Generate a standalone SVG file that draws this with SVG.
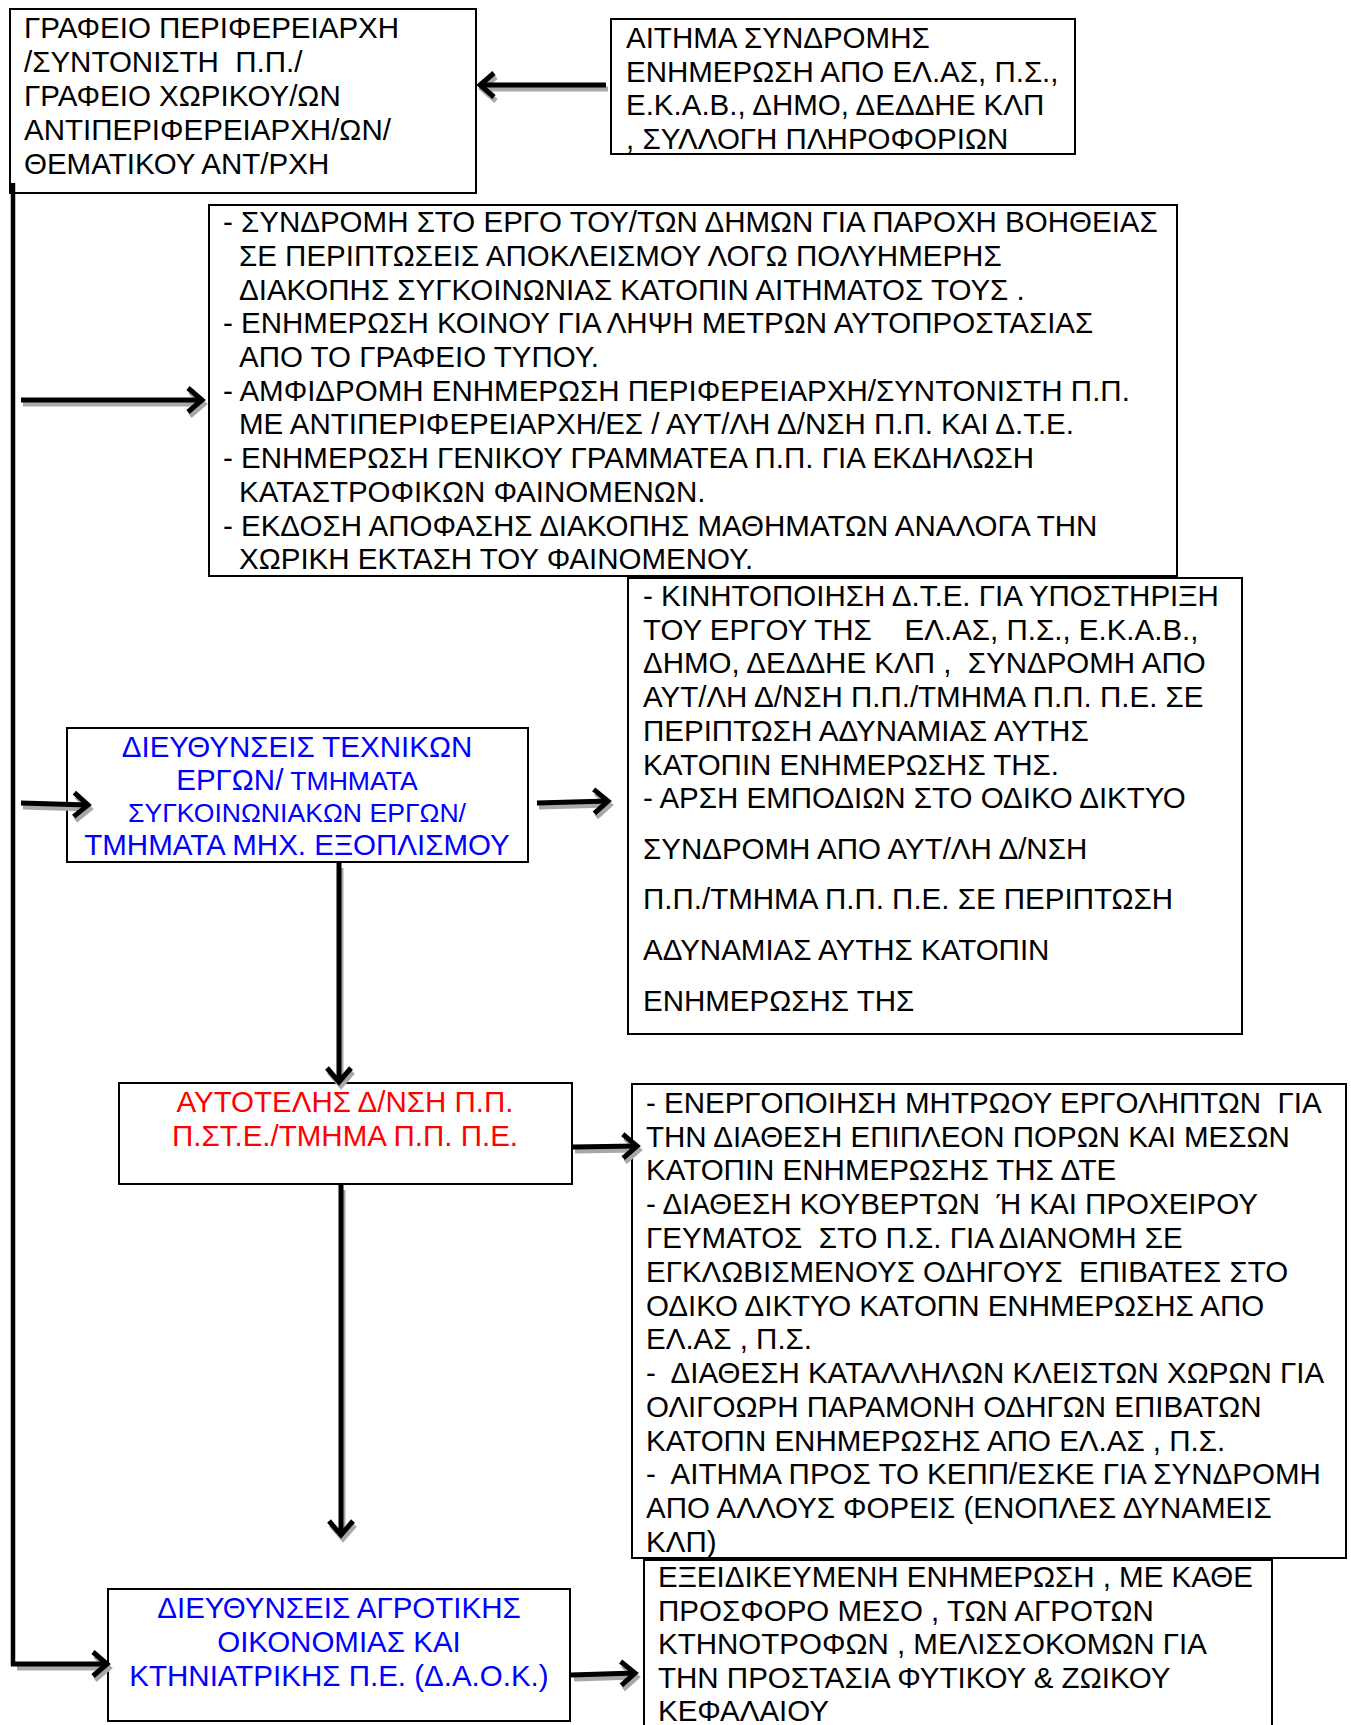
<svg xmlns="http://www.w3.org/2000/svg" width="1351" height="1725" viewBox="0 0 1351 1725">
<style>
  .box { fill: #fff; stroke: #000; stroke-width: 2; }
  text { font-family: "Liberation Sans", Arial, sans-serif; font-size: 29.5px; fill: #000; white-space: pre; }
  .blue { fill: #0000ff; }
  .red { fill: #ff0000; }
  .mid { text-anchor: middle; }
  .sm { font-size: 26.6px; }
  .ln { fill: none; stroke: #000; stroke-width: 5; marker-end: url(#ah); }
  .sh { fill: none; stroke: #a8a8a8; stroke-width: 5; marker-end: url(#ahs); }
  .vl { fill: none; stroke: #000; stroke-width: 4.5; }
</style>
<defs>
  <marker id="ah" markerUnits="userSpaceOnUse" markerWidth="30" markerHeight="30" viewBox="0 0 30 30" refX="20" refY="15" orient="auto" overflow="visible">
    <path d="M6,3 L20,15 L6,27" fill="none" stroke="#000" stroke-width="5"/>
  </marker>
  <marker id="ahs" markerUnits="userSpaceOnUse" markerWidth="30" markerHeight="30" viewBox="0 0 30 30" refX="20" refY="15" orient="auto" overflow="visible">
    <path d="M6,3 L20,15 L6,27" fill="none" stroke="#a8a8a8" stroke-width="5"/>
  </marker>
</defs>
<rect width="1351" height="1725" fill="#fff"/>

<g id="node-grafeio">
  <rect class="box" x="10" y="9" width="466" height="184"/>
  <text x="24" y="38">ΓΡΑΦΕΙΟ ΠΕΡΙΦΕΡΕΙΑΡΧΗ</text>
  <text x="24" y="72">/ΣΥΝΤΟΝΙΣΤΗ  Π.Π./</text>
  <text x="24" y="106">ΓΡΑΦΕΙΟ ΧΩΡΙΚΟΥ/ΩΝ</text>
  <text x="24" y="140">ΑΝΤΙΠΕΡΙΦΕΡΕΙΑΡΧΗ/ΩΝ/</text>
  <text x="24" y="174">ΘΕΜΑΤΙΚΟΥ ΑΝΤ/ΡΧΗ</text>
</g>

<g id="node-aitima">
  <rect class="box" x="611" y="19" width="464" height="135"/>
  <text x="626" y="48">ΑΙΤΗΜΑ ΣΥΝΔΡΟΜΗΣ</text>
  <text x="626" y="82">ΕΝΗΜΕΡΩΣΗ ΑΠΟ ΕΛ.ΑΣ, Π.Σ.,</text>
  <text x="626" y="115">Ε.Κ.Α.Β., ΔΗΜΟ, ΔΕΔΔΗΕ ΚΛΠ</text>
  <text x="626" y="149">, ΣΥΛΛΟΓΗ ΠΛΗΡΟΦΟΡΙΩΝ</text>
</g>

<g id="node-actions">
  <rect class="box" x="209" y="205" width="968" height="371"/>
  <text x="223" y="232">- ΣΥΝΔΡΟΜΗ ΣΤΟ ΕΡΓΟ ΤΟΥ/ΤΩΝ ΔΗΜΩΝ ΓΙΑ ΠΑΡΟΧΗ ΒΟΗΘΕΙΑΣ</text>
  <text x="239" y="266">ΣΕ ΠΕΡΙΠΤΩΣΕΙΣ ΑΠΟΚΛΕΙΣΜΟΥ ΛΟΓΩ ΠΟΛΥΗΜΕΡΗΣ</text>
  <text x="239" y="300">ΔΙΑΚΟΠΗΣ ΣΥΓΚΟΙΝΩΝΙΑΣ ΚΑΤΟΠΙΝ ΑΙΤΗΜΑΤΟΣ ΤΟΥΣ .</text>
  <text x="223" y="333">- ΕΝΗΜΕΡΩΣΗ ΚΟΙΝΟΥ ΓΙΑ ΛΗΨΗ ΜΕΤΡΩΝ ΑΥΤΟΠΡΟΣΤΑΣΙΑΣ</text>
  <text x="239" y="367">ΑΠΟ ΤΟ ΓΡΑΦΕΙΟ ΤΥΠΟΥ.</text>
  <text x="223" y="401">- ΑΜΦΙΔΡΟΜΗ ΕΝΗΜΕΡΩΣΗ ΠΕΡΙΦΕΡΕΙΑΡΧΗ/ΣΥΝΤΟΝΙΣΤΗ Π.Π.</text>
  <text x="239" y="434">ΜΕ ΑΝΤΙΠΕΡΙΦΕΡΕΙΑΡΧΗ/ΕΣ / ΑΥΤ/ΛΗ Δ/ΝΣΗ Π.Π. ΚΑΙ Δ.Τ.Ε.</text>
  <text x="223" y="468">- ΕΝΗΜΕΡΩΣΗ ΓΕΝΙΚΟΥ ΓΡΑΜΜΑΤΕΑ Π.Π. ΓΙΑ ΕΚΔΗΛΩΣΗ</text>
  <text x="239" y="502">ΚΑΤΑΣΤΡΟΦΙΚΩΝ ΦΑΙΝΟΜΕΝΩΝ.</text>
  <text x="223" y="536">- ΕΚΔΟΣΗ ΑΠΟΦΑΣΗΣ ΔΙΑΚΟΠΗΣ ΜΑΘΗΜΑΤΩΝ ΑΝΑΛΟΓΑ ΤΗΝ</text>
  <text x="239" y="569">ΧΩΡΙΚΗ ΕΚΤΑΣΗ ΤΟΥ ΦΑΙΝΟΜΕΝΟΥ.</text>
</g>

<g id="node-dte">
  <rect class="box" x="67" y="728" width="461" height="134"/>
  <text class="blue mid" x="297" y="757">ΔΙΕΥΘΥΝΣΕΙΣ ΤΕΧΝΙΚΩΝ</text>
  <text class="blue mid" x="297" y="790">ΕΡΓΩΝ/<tspan class="sm"> ΤΜΗΜΑΤΑ</tspan></text>
  <text class="blue mid sm" x="297" y="822">ΣΥΓΚΟΙΝΩΝΙΑΚΩΝ ΕΡΓΩΝ/</text>
  <text class="blue mid" x="297" y="855">ΤΜΗΜΑΤΑ ΜΗΧ. ΕΞΟΠΛΙΣΜΟΥ</text>
</g>

<g id="node-dte-actions">
  <rect class="box" x="628" y="578" width="614" height="456"/>
  <text x="643" y="606">- ΚΙΝΗΤΟΠΟΙΗΣΗ Δ.Τ.Ε. ΓΙΑ ΥΠΟΣΤΗΡΙΞΗ</text>
  <text x="643" y="640">ΤΟΥ ΕΡΓΟΥ ΤΗΣ    ΕΛ.ΑΣ, Π.Σ., Ε.Κ.Α.Β.,</text>
  <text x="643" y="673">ΔΗΜΟ, ΔΕΔΔΗΕ ΚΛΠ ,  ΣΥΝΔΡΟΜΗ ΑΠΟ</text>
  <text x="643" y="707">ΑΥΤ/ΛΗ Δ/ΝΣΗ Π.Π./ΤΜΗΜΑ Π.Π. Π.Ε. ΣΕ</text>
  <text x="643" y="741">ΠΕΡΙΠΤΩΣΗ ΑΔΥΝΑΜΙΑΣ ΑΥΤΗΣ</text>
  <text x="643" y="775">ΚΑΤΟΠΙΝ ΕΝΗΜΕΡΩΣΗΣ ΤΗΣ.</text>
  <text x="643" y="808">- ΑΡΣΗ ΕΜΠΟΔΙΩΝ ΣΤΟ ΟΔΙΚΟ ΔΙΚΤΥΟ</text>
  <text x="643" y="859">ΣΥΝΔΡΟΜΗ ΑΠΟ ΑΥΤ/ΛΗ Δ/ΝΣΗ</text>
  <text x="643" y="909">Π.Π./ΤΜΗΜΑ Π.Π. Π.Ε. ΣΕ ΠΕΡΙΠΤΩΣΗ</text>
  <text x="643" y="960">ΑΔΥΝΑΜΙΑΣ ΑΥΤΗΣ ΚΑΤΟΠΙΝ</text>
  <text x="643" y="1011">ΕΝΗΜΕΡΩΣΗΣ ΤΗΣ</text>
</g>

<g id="node-autoteli">
  <rect class="box" x="119" y="1083" width="453" height="101"/>
  <text class="red mid" x="345" y="1112">ΑΥΤΟΤΕΛΗΣ Δ/ΝΣΗ Π.Π.</text>
  <text class="red mid" x="345" y="1146">Π.ΣΤ.Ε./ΤΜΗΜΑ Π.Π. Π.Ε.</text>
</g>

<g id="node-autoteli-actions">
  <rect class="box" x="632" y="1084" width="714" height="474"/>
  <text x="646" y="1113">- ΕΝΕΡΓΟΠΟΙΗΣΗ ΜΗΤΡΩΟΥ ΕΡΓΟΛΗΠΤΩΝ  ΓΙΑ</text>
  <text x="646" y="1147">ΤΗΝ ΔΙΑΘΕΣΗ ΕΠΙΠΛΕΟΝ ΠΟΡΩΝ ΚΑΙ ΜΕΣΩΝ</text>
  <text x="646" y="1180">ΚΑΤΟΠΙΝ ΕΝΗΜΕΡΩΣΗΣ ΤΗΣ ΔΤΕ</text>
  <text x="646" y="1214">- ΔΙΑΘΕΣΗ ΚΟΥΒΕΡΤΩΝ  Ή ΚΑΙ ΠΡΟΧΕΙΡΟΥ</text>
  <text x="646" y="1248">ΓΕΥΜΑΤΟΣ  ΣΤΟ Π.Σ. ΓΙΑ ΔΙΑΝΟΜΗ ΣΕ</text>
  <text x="646" y="1282">ΕΓΚΛΩΒΙΣΜΕΝΟΥΣ ΟΔΗΓΟΥΣ  ΕΠΙΒΑΤΕΣ ΣΤΟ</text>
  <text x="646" y="1316">ΟΔΙΚΟ ΔΙΚΤΥΟ ΚΑΤΟΠΝ ΕΝΗΜΕΡΩΣΗΣ ΑΠΟ</text>
  <text x="646" y="1349">ΕΛ.ΑΣ , Π.Σ.</text>
  <text x="646" y="1383">-  ΔΙΑΘΕΣΗ ΚΑΤΑΛΛΗΛΩΝ ΚΛΕΙΣΤΩΝ ΧΩΡΩΝ ΓΙΑ</text>
  <text x="646" y="1417">ΟΛΙΓΟΩΡΗ ΠΑΡΑΜΟΝΗ ΟΔΗΓΩΝ ΕΠΙΒΑΤΩΝ</text>
  <text x="646" y="1451">ΚΑΤΟΠΝ ΕΝΗΜΕΡΩΣΗΣ ΑΠΟ ΕΛ.ΑΣ , Π.Σ.</text>
  <text x="646" y="1484">-  ΑΙΤΗΜΑ ΠΡΟΣ ΤΟ ΚΕΠΠ/ΕΣΚΕ ΓΙΑ ΣΥΝΔΡΟΜΗ</text>
  <text x="646" y="1518">ΑΠΟ ΑΛΛΟΥΣ ΦΟΡΕΙΣ (ΕΝΟΠΛΕΣ ΔΥΝΑΜΕΙΣ</text>
  <text x="646" y="1552">ΚΛΠ)</text>
</g>

<g id="node-daok">
  <rect class="box" x="108" y="1589" width="462" height="132"/>
  <text class="blue mid" x="339" y="1618">ΔΙΕΥΘΥΝΣΕΙΣ ΑΓΡΟΤΙΚΗΣ</text>
  <text class="blue mid" x="339" y="1652">ΟΙΚΟΝΟΜΙΑΣ ΚΑΙ</text>
  <text class="blue mid" x="339" y="1686">ΚΤΗΝΙΑΤΡΙΚΗΣ Π.Ε. (Δ.Α.Ο.Κ.)</text>
</g>

<g id="node-daok-actions">
  <rect class="box" x="644" y="1560" width="628" height="200"/>
  <text x="658" y="1587">ΕΞΕΙΔΙΚΕΥΜΕΝΗ ΕΝΗΜΕΡΩΣΗ , ΜΕ ΚΑΘΕ</text>
  <text x="658" y="1621">ΠΡΟΣΦΟΡΟ ΜΕΣΟ , ΤΩΝ ΑΓΡΟΤΩΝ</text>
  <text x="658" y="1654">ΚΤΗΝΟΤΡΟΦΩΝ , ΜΕΛΙΣΣΟΚΟΜΩΝ ΓΙΑ</text>
  <text x="658" y="1688">ΤΗΝ ΠΡΟΣΤΑΣΙΑ ΦΥΤΙΚΟΥ &amp; ΖΩΙΚΟΥ</text>
  <text x="658" y="1721">ΚΕΦΑΛΑΙΟΥ</text>
</g>

<g id="connectors">
  <g transform="translate(2,4)">
    <path class="sh" d="M606,85 L480,85"/>
    <path class="sh" d="M21,400 L202,400"/>
    <path class="sh" d="M21,803 L88,805"/>
    <path class="sh" d="M537,803 L608,801"/>
    <path class="sh" d="M339,864 L339,1082"/>
    <path class="sh" d="M573,1147 L637,1146"/>
    <path class="sh" d="M341,1186 L341,1535"/>
    <path class="sh" d="M15,1664 L107,1664"/>
    <path class="sh" d="M572,1675 L635,1673"/>
  </g>
  <path class="vl" d="M13,183 L13,1666"/>
  <path class="ln" d="M606,85 L480,85"/>
  <path class="ln" d="M21,400 L202,400"/>
  <path class="ln" d="M21,803 L88,805"/>
  <path class="ln" d="M537,803 L608,801"/>
  <path class="ln" d="M339,863 L339,1082"/>
  <path class="ln" d="M573,1147 L637,1146"/>
  <path class="ln" d="M341,1185 L341,1535"/>
  <path class="ln" d="M11,1664 L107,1664"/>
  <path class="ln" d="M571,1675 L635,1673"/>
</g>
</svg>
